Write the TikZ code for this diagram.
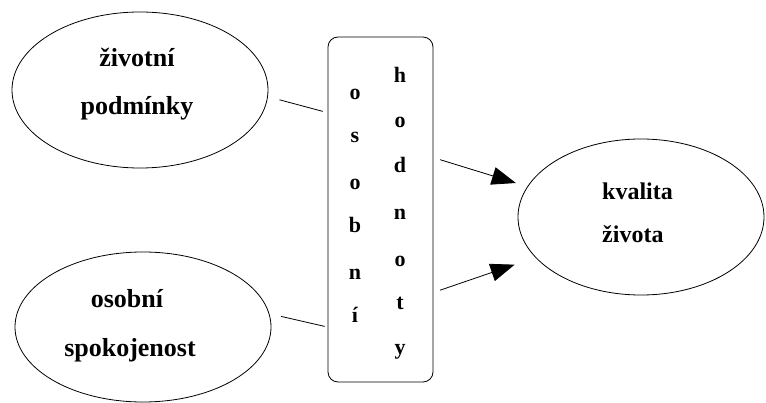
\documentclass[tikz,border=0pt]{standalone}
\usepackage{fontspec}
\setmainfont{Liberation Serif}
\usetikzlibrary{arrows.meta,calc,shapes.geometric}
\tikzset{
  oval/.style={draw, ellipse, line width=0.8pt, inner sep=0pt},
  lbl/.style={inner sep=0pt, anchor=base, font=\fontsize{26}{28}\selectfont\bfseries},
  lblsmall/.style={inner sep=0pt, anchor=base west, font=\fontsize{24}{26}\selectfont\bfseries},
  letter/.style={inner sep=0pt, anchor=base, font=\fontsize{22}{24}\selectfont\bfseries},
  conn/.style={line width=0.8pt},
  arr/.style={line width=0.8pt, -{Triangle[length=24pt,width=18pt]}},
  vbox/.style={draw, rounded corners=10pt, line width=0.8pt, inner sep=0pt}
}
\begin{document}
\begin{tikzpicture}[x=1pt,y=1pt]
\useasboundingbox (0,0) rectangle (766,-403);
% ellipses
\node[oval, minimum width=256pt, minimum height=156pt] (e1) at (140,-90) {};
\node[oval, minimum width=256pt, minimum height=150pt] (e2) at (143,-327) {};
\node[oval, minimum width=246pt, minimum height=156pt] (e3) at (641,-217) {};
% box
\node[vbox, minimum width=105pt, minimum height=345pt] (box) at (380.5,-209.5) {};
% labels
\node[lbl] (t1a) at (137,-67) {životní};
\node[lbl] (t1b) at (137,-115) {podmínky};
\node[lbl] (t2a) at (127,-308) {osobní};
\node[lbl] (t2b) at (130,-357) {spokojenost};
\node[lblsmall] (t3a) at (602,-200) {kvalita};
\node[lblsmall] (t3b) at (602,-243) {života};
% vertical words
\foreach \c/\y [count=\i] in {o/100,s/143,o/190,b/233,n/280,í/323}
  \node[letter] (l\i) at (355,-\y) {\c};
\foreach \c/\y [count=\i] in {h/83,o/128,d/173,n/220,o/267,t/310,y/355}
  \node[letter] (r\i) at (400,-\y) {\c};
% connectors
\draw[conn, shorten <=12pt, shorten >=5pt] (e1.-3) -- ($(box.north west)!0.22!(box.south west)$);
\draw[conn, shorten <=12pt, shorten >=3pt] (e2.6) -- ($(box.north west)!0.84!(box.south west)$);
\draw[arr, shorten <=7pt, shorten >=12pt] ($(box.north east)!0.35!(box.south east)$) -- (e3.165);
\draw[arr, shorten <=7pt, shorten >=22pt] ($(box.north east)!0.74!(box.south east)$) -- (e3.201);
\end{tikzpicture}
\end{document}
